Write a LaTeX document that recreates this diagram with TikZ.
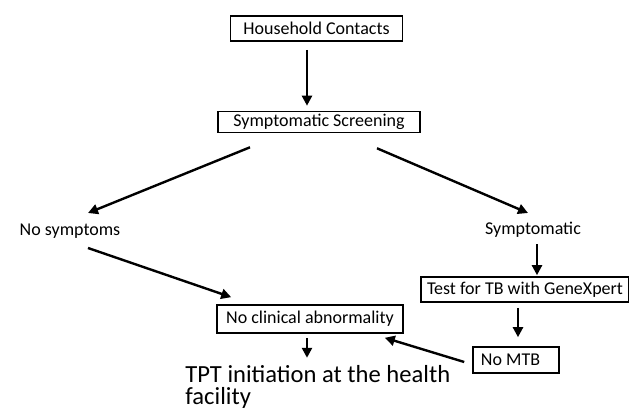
\documentclass[tikz,border=0pt]{standalone}
\usepackage{fontspec}
\setmainfont{Carlito}
\usetikzlibrary{arrows.meta}
\begin{document}
\begin{tikzpicture}[x=0.5pt,y=-0.5pt,
    box/.style={draw,line width=0.8pt,inner xsep=3pt,inner ysep=1pt,font=\fontsize{9}{11}\selectfont},
    lbl/.style={inner sep=0pt,font=\fontsize{9}{11}\selectfont},
    arr/.style={line width=1.2pt,-{Triangle[length=5pt,width=5pt]}}]
        \useasboundingbox[fill=white] (0,0) rectangle (629,410);
        \node[box,minimum width=86pt,minimum height=12.5pt] (hh) at (316.5,28.5) {Household Contacts};
        \node[box,minimum width=101pt,minimum height=10.5pt] (screen) at (319,122) {Symptomatic Screening};
        \node[lbl] (nosym) at (70,231) {No symptoms};
        \node[lbl] (sym) at (533,230) {Symptomatic};
        \node[box,minimum width=103pt,minimum height=12.5pt] (test) at (525,289.5) {Test for TB with GeneXpert};
        \node[box,minimum width=93pt,minimum height=14pt] (noclin) at (310,319) {No clinical abnormality};
        \node[box,text width=35pt,align=flush left,inner xsep=4pt,minimum height=13pt] (nomtb) at (516,360) {No MTB};
        \node[inner sep=0pt,anchor=north west,align=left,font=\fontsize{12.3}{11}\selectfont] (tpt) at (185,365) {TPT initiation at the health\\facility};
        \draw[arr,shorten <=4pt,shorten >=2.5pt] ([xshift=-4.75pt]hh.south) -- ([xshift=-4.75pt]hh.south |- screen.north);
        \draw[arr] ([shift={(-69,14)}]screen.south) -- ([shift={(18,-18)}]nosym.center);
        \draw[arr] ([shift={(58,15)}]screen.south) -- ([shift={(-5,-17)}]sym.center);
        \draw[arr,shorten <=3pt,shorten >=0.5pt] ([xshift=2pt]sym.south) -- ([xshift=2pt]sym.south |- test.north);
        \draw[arr] ([shift={(18,17)}]nosym.center) -- ([shift={(15,-7)}]noclin.north west);
        \draw[arr,shorten <=2.5pt,shorten >=4.5pt] ([xshift=-3.5pt]test.south) -- ([xshift=-3.5pt]test.south |- nomtb.north);
        \draw[arr] ([shift={(-8,2)}]nomtb.west) -- ([shift={(-19,4)}]noclin.south east);
        \draw[arr,shorten <=2pt] ([xshift=-1.5pt]noclin.south) -- ([shift={(-3,24)}]noclin.south);
\end{tikzpicture}
\end{document}
